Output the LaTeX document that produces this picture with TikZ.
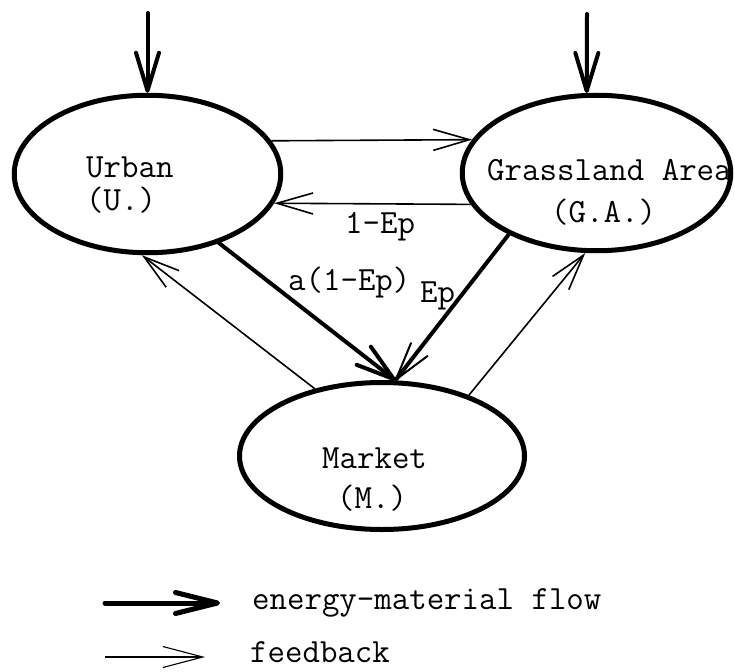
\documentclass[tikz,border=0pt]{standalone}
\usepackage{fontspec}
\usetikzlibrary{arrows.meta,shapes.geometric}
\begin{document}
\begin{tikzpicture}[x=1pt,y=-1pt,
  region/.style={ellipse, draw, line width=5pt, inner sep=0pt},
  lbl/.style={font=\ttfamily\fontsize{33.9pt}{36pt}\selectfont, inner sep=0pt, anchor=base west},
  flow/.style={line width=4pt, line cap=round,
    -{Straight Barb[length=38pt,width=23pt,line width=4pt,round]}},
  flowthin/.style={line width=4pt, line cap=round,
    -{Straight Barb[length=38pt,width=21pt,line width=2pt,round]}},
  feed/.style={line width=1.6pt,
    -{Straight Barb[length=36pt,width=21pt,line width=1.6pt]}},
  keyflow/.style={line width=5pt, line cap=round,
    -{Straight Barb[length=42pt,width=21pt,line width=5pt,round]}},
  keyfeed/.style={line width=1.1pt,
    -{Straight Barb[length=40pt,width=21pt,line width=1.1pt]}},
]
\useasboundingbox (0,0) rectangle (735,671);
\clip (0,0) rectangle (735,671);

% the three regions
\node[region, minimum width=266.5pt, minimum height=157.5pt] (u) at (147.5,174) {};
\node[region, minimum width=268.5pt, minimum height=155.5pt] (g) at (596.5,173) {};
\node[region, minimum width=285pt, minimum height=147pt] (m) at (382,456) {};

% region names
\node[lbl] (ut) at (86,177) {Urban};
\node[lbl] (uc) at (86,210) {(U.)};
\node[lbl] (gt) at (487,180) {Grassland Area};
\node[lbl] (gc) at (551,222) {(G.A.)};
\node[lbl] (mt) at (322,468) {Market};
\node[lbl] (mc) at (337,508) {(M.)};

% external inputs
\coordinate (uin) at (147.5,13);
\coordinate (gin) at (587,14);
\draw[flow] (uin) -- (u.north);
\draw[flow] (gin) -- (g.97);

% exchanges between urban and grassland
\draw[feed] (u.15) -- (g.165.4);
\draw[feed] (g.-166.4) -- (u.-13);

% flows into the market
\draw[flow] (u.-44) -- (m.80);
\draw[flowthin] (g.-145) -- (m.80);

% feedback from the market
\draw[feed] (m.135) -- (u.-94);
\draw[feed] (m.35) -- (g.-98);

% flow labels
\node[lbl] (l1) at (345,233) {1-Ep};
\node[lbl] (l2) at (288,290) {a(1-Ep)};
\node[lbl] (l3) at (420,302) {Ep};

% key
\coordinate (k1a) at (105,603);
\coordinate (k1b) at (220,603);
\draw[keyflow] (k1a) -- (k1b);
\node[lbl] (k1t) at (252,609) {energy-material flow};
\coordinate (k2a) at (105,657);
\coordinate (k2b) at (205,657);
\draw[keyfeed] (k2a) -- (k2b);
\node[lbl] (k2t) at (250,662) {feedback};
\end{tikzpicture}
\end{document}
